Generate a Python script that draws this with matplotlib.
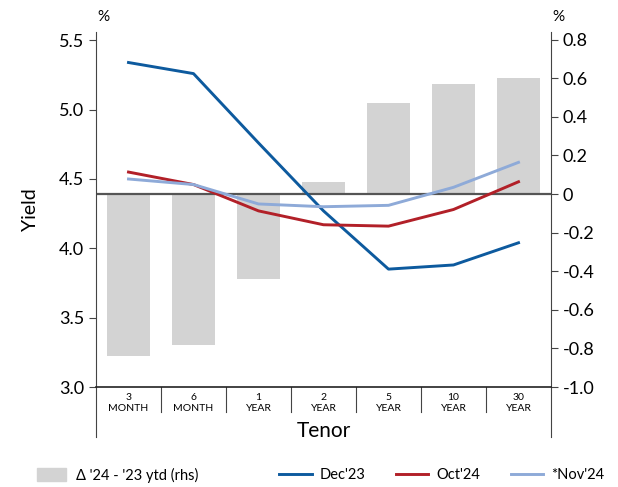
import matplotlib.pyplot as plt
from matplotlib.lines import Line2D
from matplotlib.patches import Patch

plt.rcParams['font.family'] = ['Lato', 'DejaVu Sans']

tenors = ['3\nMONTH', '6\nMONTH', '1\nYEAR', '2\nYEAR', '5\nYEAR', '10\nYEAR', '30\nYEAR']
dec23 = [5.34, 5.26, 4.76, 4.27, 3.85, 3.88, 4.04]
oct24 = [4.55, 4.46, 4.27, 4.17, 4.16, 4.28, 4.48]
nov24 = [4.50, 4.46, 4.32, 4.30, 4.31, 4.44, 4.62]
delta = [-0.84, -0.78, -0.44, 0.06, 0.47, 0.57, 0.60]

fig = plt.figure(figsize=(6.18, 4.87), dpi=100)
ax = fig.add_axes([96 / 618, 100 / 487, 455 / 618, 355 / 487])
ax2 = ax.twinx()
ax.set_zorder(ax2.get_zorder() + 1)
ax.patch.set_visible(False)

x = range(len(tenors))
ax2.bar(x, delta, width=0.66, color='#d3d3d3', zorder=1)
ax2.axhline(0, color='#555555', lw=1.6, zorder=2)
ax2.set_ylim(-1.0, 0.84)
ax2.set_yticks([0.8, 0.6, 0.4, 0.2, 0, -0.2, -0.4, -0.6, -0.8, -1.0])
ax2.set_yticklabels(['0.8', '0.6', '0.4', '0.2', '0', '-0.2', '-0.4', '-0.6', '-0.8', '-1.0'])

ax.plot(x, dec23, color='#0d5a9e', lw=2.1, label="Dec'23")
ax.plot(x, oct24, color='#b22028', lw=2.1, label="Oct'24")
ax.plot(x, nov24, color='#8eaad8', lw=2.1, label="*Nov'24")
ax.set_ylim(3.0, 5.56)
ax.set_yticks([3.0, 3.5, 4.0, 4.5, 5.0, 5.5])
ax.set_xlim(-0.5, 6.5)
ax.set_xticks(list(x))
ax.set_xticklabels(tenors, fontsize=7.5, linespacing=1.3)
ax.tick_params(axis='x', length=0, pad=4)
ax.set_xlabel('Tenor', fontsize=15, labelpad=6)
ax.set_ylabel('Yield', fontsize=14, labelpad=14)

for a in (ax, ax2):
    a.spines['top'].set_visible(False)
    for s in a.spines.values():
        s.set_color('#444444')
    a.tick_params(axis='y', labelsize=13, color='#444444', length=5)
ax2.spines['left'].set_visible(False)
ax2.spines['bottom'].set_visible(False)
ax.spines['right'].set_visible(False)
ax.spines['bottom'].set_linewidth(1.2)
ax.spines['bottom'].set_color('#222222')

# separators below the axis
for i in range(1, 7):
    ax.add_line(Line2D([i / 7, i / 7], [0, -0.07], transform=ax.transAxes,
                       color='#444444', lw=0.8, clip_on=False))
for xe in (0, 1):
    ax.add_line(Line2D([xe, xe], [0, -0.14], transform=ax.transAxes,
                       color='#444444', lw=0.8, clip_on=False))

fig.text(103 / 618, 1 - 17 / 487, '%', fontsize=11, ha='center', va='center')
fig.text(558 / 618, 1 - 17 / 487, '%', fontsize=11, ha='center', va='center')

leg1 = fig.legend(handles=[Patch(color='#d3d3d3', label="\u0394 '24 - '23 ytd (rhs)")],
                  loc='center left', bbox_to_anchor=(24 / 618, 1 - 475 / 487),
                  frameon=False, fontsize=10.5, handlelength=2.0, handleheight=0.9,
                  handletextpad=0.7)
h, l = ax.get_legend_handles_labels()
fig.legend(h, l, loc='center right', bbox_to_anchor=(617 / 618, 1 - 475 / 487),
           ncol=3, frameon=False, fontsize=10.5, handlelength=2.2,
           handletextpad=0.55, columnspacing=2.1)

fig.savefig('out.png', dpi=100)
